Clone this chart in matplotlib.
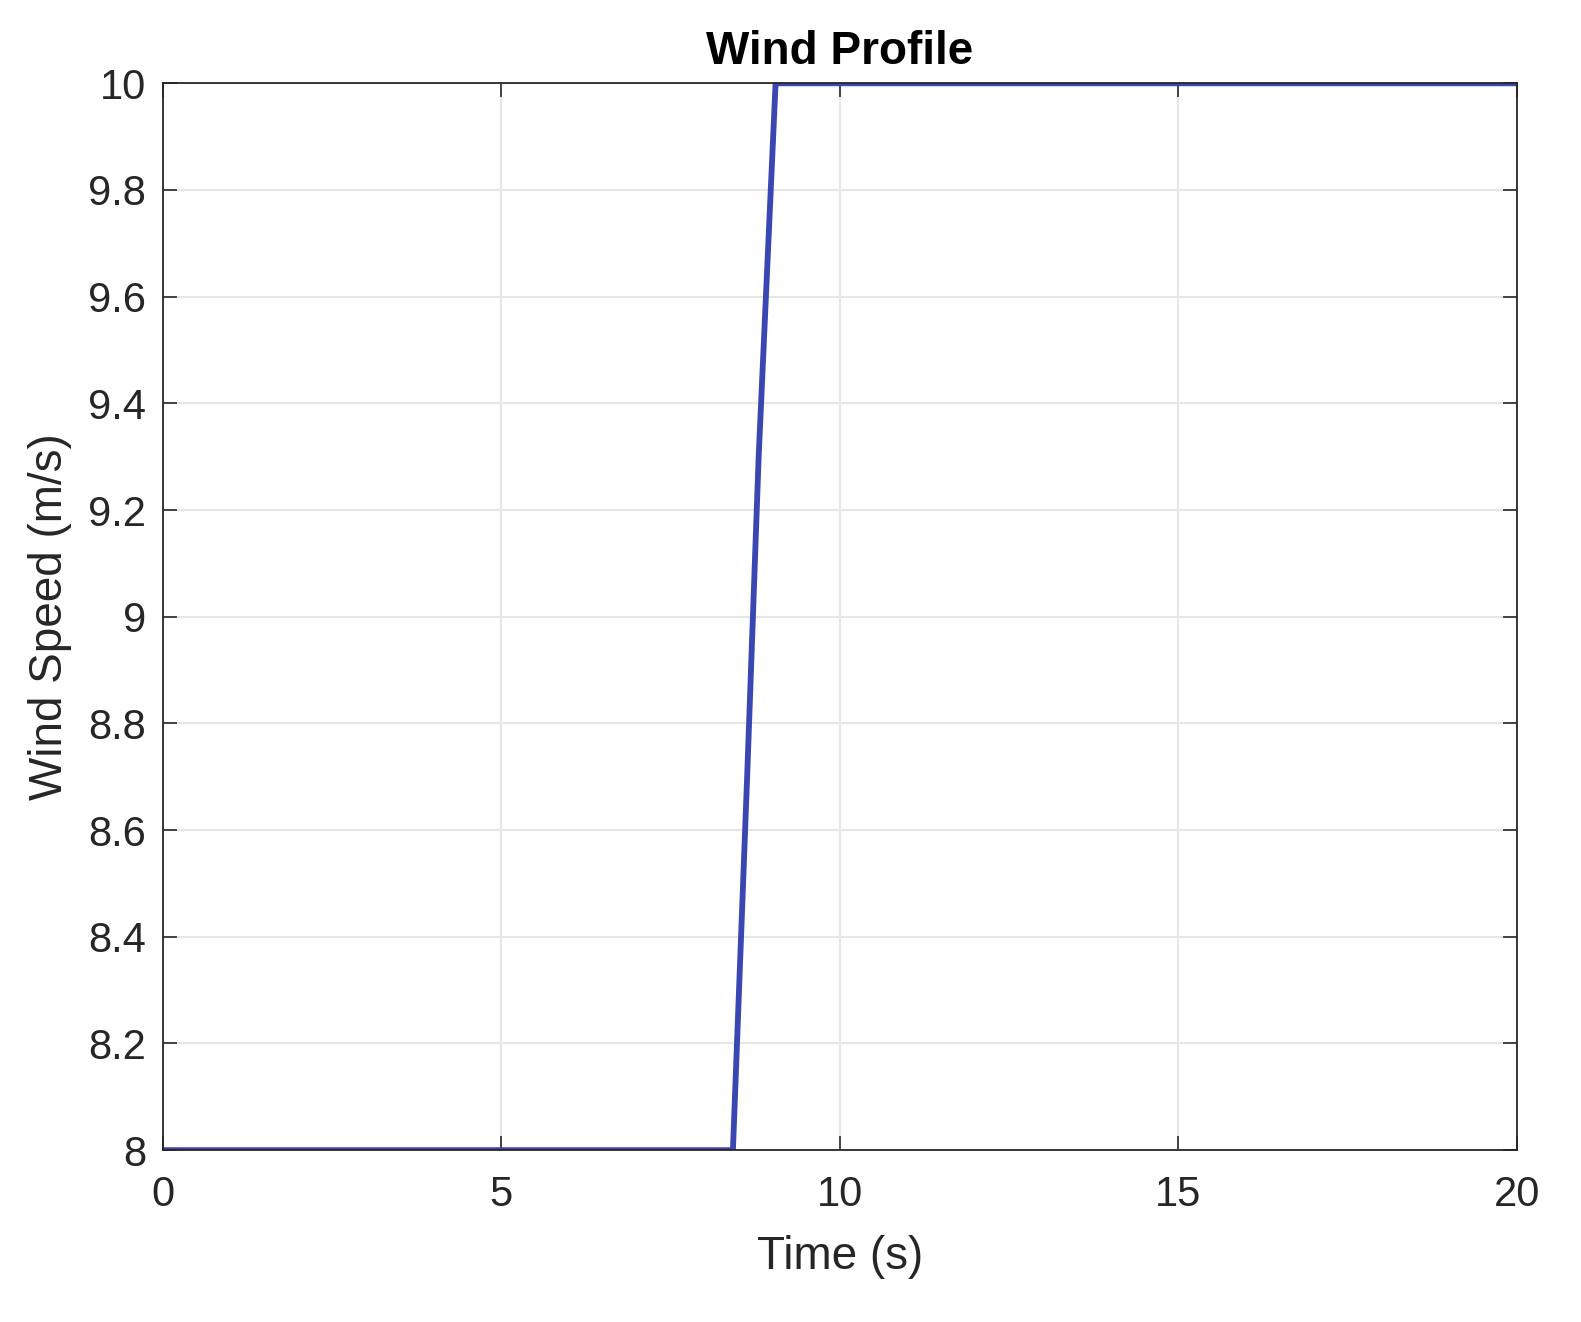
import numpy as np
from matplotlib import pyplot as plt

plt.rcParams['font.family'] = ['Liberation Sans', 'DejaVu Sans']

# wind profile: step from 8 to 10 m/s with a short ramp
time = [0.0, 8.42, 8.63, 8.8, 9.05, 20.0]
wind = [8.0, 8.0, 8.7, 9.3, 10.0, 10.0]

xticks = [0, 5, 10, 15, 20]
yticks = [8, 8.2, 8.4, 8.6, 8.8, 9, 9.2, 9.4, 9.6, 9.8, 10]
ylabels = ['8', '8.2', '8.4', '8.6', '8.8', '9', '9.2', '9.4', '9.6', '9.8', '10']

fig = plt.figure(figsize=(15.81, 13.22), dpi=100)
ax = fig.add_axes([0.103, 0.130, 0.8565, 0.807])

ax.plot(time, wind, color='#3a47b3', linewidth=4.2, solid_joinstyle='miter')

ax.set_xlim(0, 20)
ax.set_ylim(8, 10)
ax.set_xticks(xticks)
ax.set_yticks(yticks)
ax.set_yticklabels(ylabels)
ax.grid(True, color='#e6e6e6', linewidth=1.5)
ax.set_axisbelow(True)
ax.tick_params(direction='in', top=True, right=True, length=10, width=1.2,
               labelsize=30, colors='#262626')
ax.tick_params(axis='x', pad=18)
ax.tick_params(axis='y', pad=12)
for s in ax.spines.values():
    s.set_color('#262626')
    s.set_linewidth(1.3)

ax.set_title('Wind Profile', fontsize=33, fontweight='bold', pad=14)
ax.set_xlabel('Time (s)', fontsize=33, color='#262626', labelpad=14)
ax.set_ylabel('Wind Speed (m/s)', fontsize=33, color='#262626', labelpad=12)

plt.savefig('out.png', dpi=100)
